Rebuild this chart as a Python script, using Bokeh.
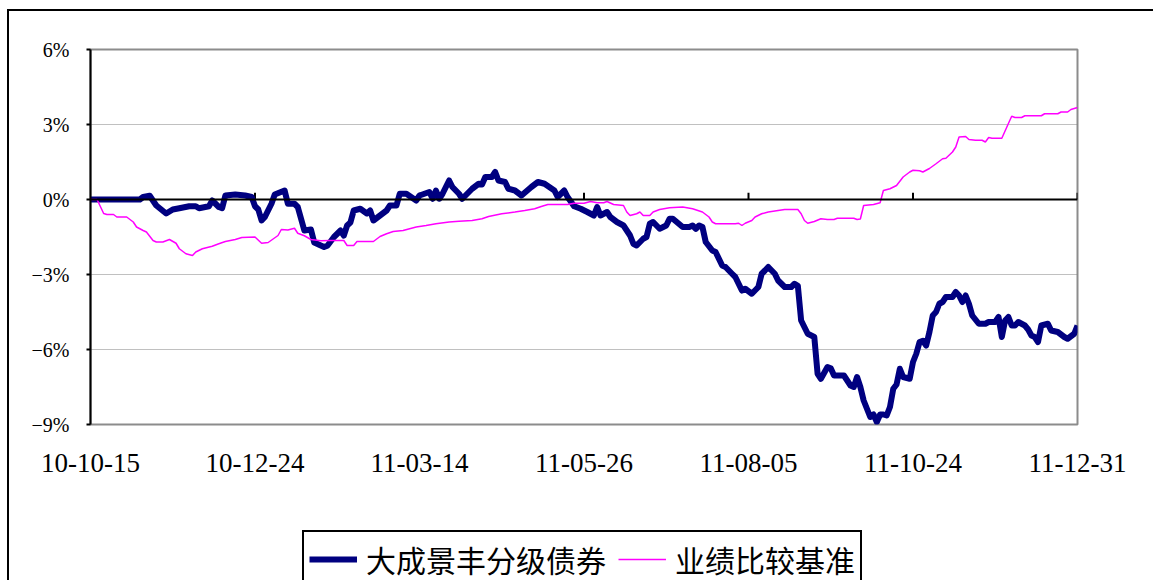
from bokeh.plotting import figure
from bokeh.models import FixedTicker, Span, Legend, LegendItem
from bokeh.layouts import column
from bokeh.embed import file_html
from bokeh.resources import INLINE

# x positions are trading-day indices (0 = 2010-10-15, 300 = 2011-12-31)
tick_days = [0, 50, 100, 150, 200, 250, 300]
tick_labels = ["10-10-15", "10-12-24", "11-03-14", "11-05-26", "11-08-05", "11-10-24", "11-12-31"]

y_ticks = [-9, -6, -3, 0, 3, 6]
y_labels = ["\u22129%", "\u22126%", "\u22123%", "0%", "3%", "6%"]

fund_name = "大成景丰分级债券"
bench_name = "业绩比较基准"

fund_days = [0, 15, 16, 18, 20, 23, 25, 27, 30, 32, 33, 36, 37, 39, 40, 41, 44, 47, 49, 50,
             51, 52, 53, 55, 56, 59, 60, 62, 63, 65, 67, 68, 71, 72, 74, 76, 77, 78, 79, 80,
             82, 84, 85, 86, 88, 90, 91, 93, 94, 96, 99, 100, 103, 104, 105, 106, 107, 109, 110, 112,
             113, 116, 118, 119, 120, 122, 123, 124, 126, 127, 129, 131, 134, 136, 138, 141, 142, 144, 145, 147,
             149, 151, 153, 154, 155, 157, 158, 160, 162, 164, 165, 166, 168, 169, 170, 171, 173, 175, 176, 177,
             180, 182, 183, 184, 185, 186, 187, 189, 190, 192, 193, 195, 196, 198, 199, 201, 203, 204, 205, 206,
             208, 209, 211, 213, 214, 215, 216, 218, 220, 221, 222, 224, 225, 226, 229, 231, 232, 233, 234, 235,
             237, 238, 239, 240, 241, 242, 243, 244, 245, 246, 247, 249, 250, 251, 252, 253, 254, 255, 256, 257,
             258, 259, 260, 262, 263, 264, 265, 266, 267, 268, 270, 272, 273, 275, 276, 277, 278, 279, 280, 281,
             282, 284, 285, 286, 287, 288, 289, 291, 292, 294, 296, 297, 299, 300]
fund_vals = [0.0, 0.0, 0.10, 0.15, -0.24, -0.56, -0.40, -0.35, -0.27, -0.27, -0.35, -0.27, -0.04, -0.30, -0.35, 0.16, 0.20, 0.16, 0.10, -0.27,
             -0.40, -0.84, -0.70, -0.17, 0.20, 0.36, -0.17, -0.17, -0.30, -1.24, -1.20, -1.72, -1.90, -1.85, -1.50, -1.24, -1.44, -1.04, -0.92, -0.44,
             -0.37, -0.56, -0.44, -0.84, -0.64, -0.44, -0.24, -0.24, 0.23, 0.23, -0.04, 0.16, 0.30, 0.03, 0.36, 0.03, 0.23, 0.76, 0.50, 0.23,
             0.03, 0.43, 0.63, 0.60, 0.90, 0.90, 1.10, 0.76, 0.70, 0.43, 0.36, 0.16, 0.50, 0.70, 0.63, 0.36, 0.10, 0.36, 0.10, -0.27,
             -0.37, -0.50, -0.64, -0.30, -0.64, -0.50, -0.70, -0.90, -1.04, -1.44, -1.77, -1.84, -1.57, -1.50, -0.97, -0.90, -1.17, -1.04, -0.77, -0.77,
             -1.10, -1.10, -1.04, -1.17, -1.04, -1.10, -1.70, -2.04, -2.10, -2.64, -2.70, -2.97, -3.10, -3.64, -3.57, -3.77, -3.50, -2.97, -2.84, -2.70,
             -2.97, -3.24, -3.50, -3.50, -3.37, -3.45, -4.84, -5.37, -5.50, -6.97, -7.17, -6.70, -6.75, -7.04, -7.04, -7.44, -7.50, -7.10, -7.50, -8.04,
             -8.70, -8.60, -8.90, -8.60, -8.60, -8.64, -8.30, -7.57, -7.40, -6.77, -7.10, -7.17, -6.50, -6.17, -5.70, -5.65, -5.84, -5.30, -4.64, -4.50,
             -4.17, -4.10, -3.90, -3.90, -3.70, -3.84, -4.10, -3.84, -4.17, -4.64, -4.97, -4.97, -4.90, -4.90, -4.70, -5.50, -4.84, -4.70, -5.04, -5.04,
             -4.90, -5.04, -5.20, -5.44, -5.50, -5.70, -5.04, -4.97, -5.24, -5.30, -5.50, -5.57, -5.37, -5.04]

bench_days = [0, 2, 4, 5, 7, 8, 11, 13, 14, 16, 17, 19, 20, 22, 24, 26, 27, 29, 31, 32,
              34, 37, 39, 41, 44, 46, 50, 52, 54, 57, 58, 60, 62, 63, 65, 67, 70, 73, 77, 78,
              80, 81, 86, 88, 90, 92, 95, 97, 99, 102, 105, 109, 112, 116, 119, 121, 125, 129, 132, 135,
              137, 139, 145, 147, 150, 152, 154, 156, 157, 159, 162, 163, 164, 166, 167, 168, 170, 171, 173, 176,
              180, 183, 186, 188, 189, 190, 196, 197, 198, 199, 201, 202, 204, 206, 209, 211, 215, 216, 217, 218,
              220, 222, 224, 226, 227, 232, 233, 234, 235, 238, 240, 241, 243, 245, 247, 249, 250, 252, 253, 255,
              257, 259, 260, 262, 263, 264, 266, 267, 269, 271, 272, 273, 274, 277, 279, 280, 281, 283, 284, 289,
              290, 294, 295, 297, 298, 300]
bench_vals = [0.0, 0.0, -0.56, -0.60, -0.60, -0.70, -0.70, -0.90, -1.10, -1.24, -1.30, -1.64, -1.70, -1.70, -1.60, -1.75, -1.97, -2.17, -2.24, -2.10,
              -1.97, -1.87, -1.77, -1.68, -1.60, -1.52, -1.50, -1.75, -1.72, -1.44, -1.20, -1.22, -1.15, -1.35, -1.45, -1.60, -1.65, -1.64, -1.64, -1.84,
              -1.84, -1.68, -1.68, -1.48, -1.37, -1.28, -1.24, -1.17, -1.10, -1.04, -0.97, -0.90, -0.87, -0.84, -0.77, -0.68, -0.57, -0.50, -0.44, -0.37,
              -0.28, -0.20, -0.20, -0.15, -0.15, -0.08, -0.13, -0.13, -0.08, -0.20, -0.24, -0.50, -0.64, -0.57, -0.50, -0.64, -0.64, -0.50, -0.40, -0.33,
              -0.30, -0.37, -0.50, -0.70, -0.90, -0.97, -0.97, -0.95, -1.04, -0.95, -0.84, -0.70, -0.57, -0.50, -0.44, -0.40, -0.40, -0.57, -0.84, -0.95,
              -0.88, -0.77, -0.80, -0.80, -0.75, -0.75, -0.80, -0.78, -0.24, -0.20, -0.13, 0.36, 0.43, 0.56, 0.90, 1.10, 1.17, 1.15, 1.10, 1.24,
              1.43, 1.63, 1.65, 1.90, 2.10, 2.50, 2.52, 2.40, 2.37, 2.37, 2.30, 2.48, 2.45, 2.45, 3.04, 3.33, 3.28, 3.28, 3.35, 3.35,
              3.43, 3.43, 3.50, 3.50, 3.60, 3.68]

FUND_COLOR = "#000080"
BENCH_COLOR = "#FF00FF"

p = figure(frame_width=987, frame_height=375, output_backend="svg", toolbar_location=None,
           x_range=(0, 300), y_range=(-9, 6),
           min_border_left=81, min_border_right=76, min_border_top=38, min_border_bottom=60)
p.background_fill_color = "white"
p.border_fill_color = "white"
p.outline_line_color = "#8c8c8c"
p.outline_line_width = 2

# x axis: labels only
p.xaxis.ticker = FixedTicker(ticks=tick_days)
p.xaxis.major_label_overrides = {d: l for d, l in zip(tick_days, tick_labels)}
p.xaxis.axis_line_color = None
p.xaxis.major_tick_line_color = None
p.xaxis.minor_tick_line_color = None
p.xaxis.major_label_standoff = 23
p.xaxis.major_label_text_font = "Liberation Serif"
p.xaxis.major_label_text_font_size = "27px"
p.xaxis.major_label_text_color = "black"
p.xgrid.visible = False

# y axis
p.yaxis.ticker = FixedTicker(ticks=y_ticks)
p.yaxis.major_label_overrides = {t: l for t, l in zip(y_ticks, y_labels)}
p.yaxis.axis_line_color = "black"
p.yaxis.axis_line_width = 2
p.yaxis.major_tick_line_color = "black"
p.yaxis.major_tick_line_width = 2
p.yaxis.major_tick_out = 4
p.yaxis.major_tick_in = 0
p.yaxis.minor_tick_line_color = None
p.yaxis.major_label_standoff = 17
p.yaxis.major_label_text_font = "Liberation Serif"
p.yaxis.major_label_text_font_size = "20px"
p.yaxis.major_label_text_color = "black"

p.ygrid.ticker = FixedTicker(ticks=[-6, -3, 3])
p.ygrid.grid_line_color = "#808080"
p.ygrid.grid_line_dash = "1 1"
p.ygrid.grid_line_width = 1

# zero line with category ticks
p.add_layout(Span(location=0, dimension="width", line_color="black", line_width=2))
p.segment(x0=tick_days[1:], y0=[0] * 6, x1=tick_days[1:], y1=[0.27] * 6,
          line_color="black", line_width=2)

p.line(fund_days, fund_vals, line_color=FUND_COLOR, line_width=6, line_join="round")
p.line(bench_days, bench_vals, line_color=BENCH_COLOR, line_width=1.5)

# legend strip under the chart (its view range is set away from the data, so only the legend shows)
lg = figure(frame_width=1144, frame_height=96, output_backend="svg", toolbar_location=None,
            x_axis_type=None, y_axis_type=None, min_border=0,
            x_range=(1000, 1001), y_range=(1000, 1001))
lg.outline_line_color = None
lg.grid.visible = False
lg.background_fill_color = "white"
lg.border_fill_color = "white"
k1 = lg.line(fund_days, fund_vals, line_color=FUND_COLOR, line_width=6)
k2 = lg.line(bench_days, bench_vals, line_color=BENCH_COLOR, line_width=1.5)

legend = Legend(items=[LegendItem(label=fund_name, renderers=[k1]),
                       LegendItem(label=bench_name, renderers=[k2])],
                orientation="horizontal", location=(293, -8))
legend.border_line_color = "black"
legend.border_line_alpha = 1
legend.border_line_width = 2
legend.background_fill_color = "white"
legend.background_fill_alpha = 1
legend.label_text_font = "Noto Sans CJK SC"
legend.label_text_font_size = "30px"
legend.label_text_color = "black"
legend.glyph_width = 48
legend.glyph_height = 30
legend.label_standoff = 9
legend.spacing = 12
legend.padding = 5
legend.margin = 0
lg.add_layout(legend, "center")

layout = column(p, lg, spacing=0,
                styles={"border-left": "2px solid black", "border-top": "2px solid black",
                        "margin-left": "7px", "margin-top": "9px"})

open("out.html", "w").write(file_html(layout, INLINE))
